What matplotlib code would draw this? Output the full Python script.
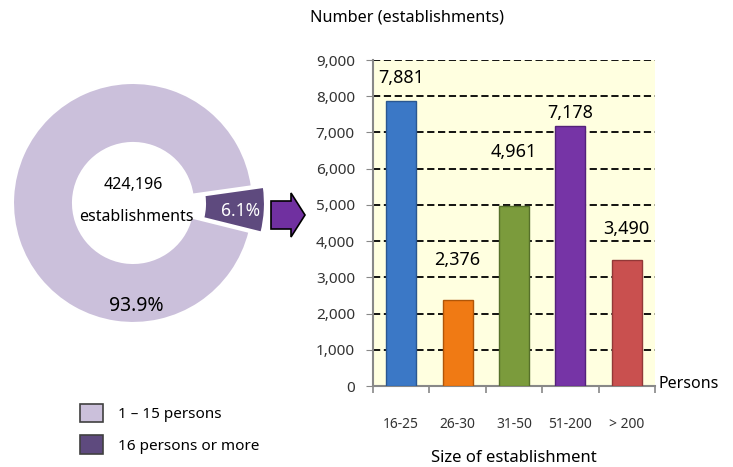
import matplotlib.pyplot as plt
from matplotlib.patches import Patch, FancyArrow

plt.rcParams['font.family'] = ['Noto Sans', 'DejaVu Sans']

# donut data
pie_labels = ['1 \u2013 15 persons', '16 persons or more']
pie_shares = [93.9, 6.1]
pie_total = '424,196'

# bar data
sizes = ['16-25', '26-30', '31-50', '51-200', '> 200']
counts = [7881, 2376, 4961, 7178, 3490]

pie_colors = ['#CBC0DB', '#5E4A7E']
bar_colors = ['#3B78C6', '#F07A14', '#7B9B3C', '#7634A6', '#C9504F']
bar_edges = ['#2A5790', '#B05608', '#56702A', '#54227A', '#923837']
# label offset above each bar (points), as placed in the original
label_offsets = [16, 29, 39, 9, 22]

fig = plt.figure(figsize=(7.33, 4.67), dpi=100)

# ---- donut ----
ax_pie = fig.add_axes([0.0, 0.272, 290 / 733, 280 / 467])
wedges, _ = ax_pie.pie(pie_shares, colors=pie_colors, startangle=8,
                       explode=[0, 0.1], radius=1.0,
                       wedgeprops=dict(width=0.5, edgecolor='white', linewidth=1.5))
ax_pie.set_xlim(-133 / 120, 157 / 120)
ax_pie.set_ylim(-137 / 120, 143 / 120)
ax_pie.set_aspect('auto')
ax_pie.axis('off')
ax_pie.text(0.03, -0.86, f'{pie_shares[0]}%', ha='center', va='center',
            fontsize=14, fontweight='semibold', color='black')
ax_pie.text(0.9, -0.07, f'{pie_shares[1]}%', ha='center', va='center',
            fontsize=12.5, color='white')
ax_pie.text(0, 0.15, pie_total, ha='center', va='center', fontsize=11.5)
ax_pie.text(0.03, -0.12, 'establishments', ha='center', va='center', fontsize=11.5)

# overlay for the arrow
ax_over = fig.add_axes([0, 0, 1, 1])
ax_over.set_xlim(0, 733)
ax_over.set_ylim(467, 0)
ax_over.axis('off')
ax_over.add_patch(FancyArrow(271, 215, 20, 0, width=28, head_width=44,
                             head_length=14, length_includes_head=False,
                             facecolor='#7030A0', edgecolor='black', linewidth=1.2))

fig.legend(handles=[Patch(facecolor=c, edgecolor='#404040', linewidth=1.2) for c in pie_colors],
           labels=pie_labels, loc='upper left', bbox_to_anchor=(66 / 733, 1 - 390 / 467),
           frameon=False, fontsize=11, handlelength=1.5, handleheight=1.5,
           labelspacing=0.85, handletextpad=1.0)

# ---- bars ----
ax = fig.add_axes([373 / 733, 81 / 467, 282 / 733, 326 / 467])
ax.set_facecolor('#FFFFE0')
x = list(range(len(sizes)))
ax.bar(x, counts, width=0.53, color=bar_colors, edgecolor=bar_edges,
       linewidth=1.0, zorder=3)
for xi, v, off in zip(x, counts, label_offsets):
    ax.annotate(f'{v:,}', (xi, v), xytext=(0, off), textcoords='offset points',
                ha='center', va='center', fontsize=13, zorder=4)

ax.set_xlim(-0.5, 4.5)
ax.set_ylim(0, 9000)
ax.set_yticks(range(0, 9001, 1000))
ax.set_yticklabels([f'{t:,}' for t in range(0, 9001, 1000)], fontsize=11, color='#333333')
ax.yaxis.grid(True, linestyle=(0, (4, 2)), color='black', linewidth=1.3, zorder=1)
ax.set_axisbelow(True)
ax.tick_params(axis='y', length=5, color='#888888', pad=8)

ax.set_xticks(x)
ax.set_xticklabels(sizes, fontsize=10, color='#333333')
ax.tick_params(axis='x', which='major', length=0, pad=22)
ax.set_xticks([i - 0.5 for i in range(len(sizes) + 1)], minor=True)
ax.tick_params(axis='x', which='minor', length=5, color='#888888', width=1.2)

for s in ['top', 'right']:
    ax.spines[s].set_visible(False)
for s in ['left', 'bottom']:
    ax.spines[s].set_color('#888888')
    ax.spines[s].set_linewidth(1.5)

ax.set_xlabel('Size of establishment', fontsize=12, labelpad=13)
fig.text(310 / 733, 1 - 18 / 467, 'Number (establishments)', fontsize=11.7, va='center')
fig.text(658 / 733, 1 - 384 / 467, 'Persons', fontsize=11.5, va='center')

fig.savefig('out.png', dpi=100)
